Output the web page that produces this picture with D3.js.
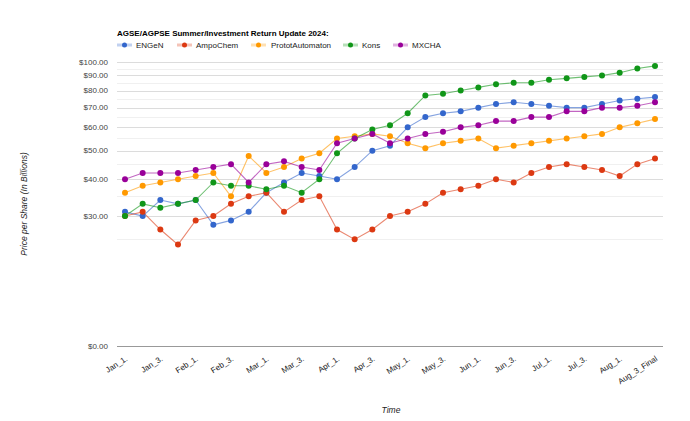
<!DOCTYPE html>
<html>
<head>
<meta charset="utf-8">
<script src="https://cdn.jsdelivr.net/npm/d3@7"></script>
<style>
  html, body { margin: 0; padding: 0; background: #fff; }
  svg { display: block; font-family: Arial, "Liberation Sans", sans-serif; }
</style>
</head>
<body>
<svg id="chart" width="690" height="421"></svg>
<script>
const categories = [
  "Jan_1.", "Jan_2.", "Jan_3.", "Jan_4.",
  "Feb_1.", "Feb_2.", "Feb_3.", "Feb_4.",
  "Mar_1.", "Mar_2.", "Mar_3.", "Mar_4.",
  "Apr_1.", "Apr_2.", "Apr_3.", "Apr_4.",
  "May_1.", "May_2.", "May_3.", "May_4.",
  "Jun_1.", "Jun_2.", "Jun_3.", "Jun_4.",
  "Jul_1.", "Jul_2.", "Jul_3.", "Jul_4.",
  "Aug_1.", "Aug_2.", "Aug_3_Final"
];
const seriesNames = ["ENGeN", "AmpoChem", "PrototAutomaton", "Kons", "MXCHA"];
const engen    = [31,30,34,33,34,28,29,31,36,39,42,41,40,44,50,52,60,65,67,68,70,72,73,72,71,70,70,72,74,75,76];
const ampochem = [30,31,27,24,29,30,33,35,36,31,34,35,27,25,27,30,31,33,36,37,38,40,39,42,44,45,44,43,41,45,47];
const proto    = [36,38,39,40,41,42,35,48,42,44,47,49,55,56,57,56,53,51,53,54,55,51,52,53,54,55,56,57,60,62,64];
const kons     = [30,33,32,33,34,39,38,38,37,38,36,40,49,55,59,61,67,77,78,80,82,84,85,85,87,88,89,90,92,95,97];
const mxcha    = [40,42,42,42,43,44,45,39,45,46,44,43,53,55,57,53,55,57,58,60,61,63,63,65,65,68,68,70,70,71,73];
const majorTicks = [30, 40, 50, 60, 70, 80, 90, 100];
const minorTicks = [25, 35, 45, 55, 65, 75, 85, 95];
const baselineLabel = "$0.00";
const colors = ["#3366cc", "#dc3912", "#ff9900", "#109618", "#990099"];

const seriesData = [engen, ampochem, proto, kons, mxcha];

const svg = d3.select("#chart");
const plotLeft = 117, plotRight = 663, plotTop = 62, plotBottom = 346;

const x = d3.scalePoint().domain(categories).range([125, 655]);
const yBottomValue = Math.pow(10, 2 - (plotBottom - plotTop) / 294.6);
const y = d3.scaleLog().domain([yBottomValue, 100]).range([plotBottom, plotTop]);

// minor gridlines
svg.append("g").selectAll("line").data(minorTicks).join("line")
  .attr("x1", plotLeft).attr("x2", plotRight)
  .attr("y1", d => Math.round(y(d)) + 0.5).attr("y2", d => Math.round(y(d)) + 0.5)
  .attr("stroke", "#f0f0f0").attr("stroke-width", 1);

// major gridlines
svg.append("g").selectAll("line").data(majorTicks).join("line")
  .attr("x1", plotLeft).attr("x2", plotRight)
  .attr("y1", d => Math.round(y(d)) + 0.5).attr("y2", d => Math.round(y(d)) + 0.5)
  .attr("stroke", "#dcdcdc").attr("stroke-width", 1);

// y labels
const fmt = d3.format("$.2f");
svg.append("g").selectAll("text").data(majorTicks).join("text")
  .attr("x", 108).attr("y", d => y(d)).attr("dy", "0.35em")
  .attr("text-anchor", "end").attr("font-size", 8).attr("fill", "#444")
  .text(d => fmt(d));

svg.append("text").attr("x", 108).attr("y", plotBottom).attr("dy", "0.35em")
  .attr("text-anchor", "end").attr("font-size", 8).attr("fill", "#444")
  .text(baselineLabel);

// baseline axis line
svg.append("line").attr("x1", plotLeft).attr("x2", plotRight)
  .attr("y1", plotBottom + 0.5).attr("y2", plotBottom + 0.5)
  .attr("stroke", "#999").attr("stroke-width", 1);

// x tick labels (every other category)
const shown = categories.filter((d, i) => i % 2 === 0);
svg.append("g").selectAll("text").data(shown).join("text")
  .attr("text-anchor", "end").attr("font-size", 8).attr("fill", "#222")
  .attr("transform", d => `translate(${x(d) + 3},${plotBottom + 14}) rotate(-33)`)
  .text(d => d);

// lines and points
const line = d3.line().x((d, i) => x(categories[i])).y(d => y(d));
seriesData.forEach((vals, si) => {
  svg.append("path").datum(vals)
    .attr("d", line).attr("fill", "none")
    .attr("stroke", colors[si]).attr("stroke-width", 1.1).attr("stroke-opacity", 0.6);
});
seriesData.forEach((vals, si) => {
  svg.append("g").selectAll("circle").data(vals).join("circle")
    .attr("cx", (d, i) => x(categories[i])).attr("cy", d => y(d))
    .attr("r", 3).attr("fill", colors[si]);
});

// title
svg.append("text").attr("x", 117).attr("y", 35.5)
  .attr("font-size", 8).attr("font-weight", "bold").attr("fill", "#000")
  .text("AGSE/AGPSE Summer/Investment Return Update 2024:");

// legend
const legendX = [117, 177, 251, 343, 393];
const lg = svg.append("g").selectAll("g").data(seriesNames).join("g")
  .attr("transform", (d, i) => `translate(${legendX[i]},45)`);
lg.append("line").attr("x1", 0).attr("x2", 15).attr("y1", 0).attr("y2", 0)
  .attr("stroke", (d, i) => colors[i]).attr("stroke-width", 3).attr("stroke-opacity", 0.3);
lg.append("circle").attr("cx", 7.5).attr("cy", 0).attr("r", 2.5)
  .attr("fill", (d, i) => colors[i]);
lg.append("text").attr("x", (d, i) => i === 2 ? 20 : 19).attr("y", 0).attr("dy", "0.35em")
  .attr("font-size", 8).attr("fill", "#222").text(d => d);

// axis titles
svg.append("text").attr("transform", "translate(27,204) rotate(-90)")
  .attr("text-anchor", "middle").attr("font-size", 8.5).attr("font-style", "italic")
  .attr("fill", "#222").text("Price per Share (In Billions)");
svg.append("text").attr("x", 391).attr("y", 413)
  .attr("text-anchor", "middle").attr("font-size", 8.5).attr("font-style", "italic")
  .attr("fill", "#222").text("Time");
</script>
</body>
</html>
